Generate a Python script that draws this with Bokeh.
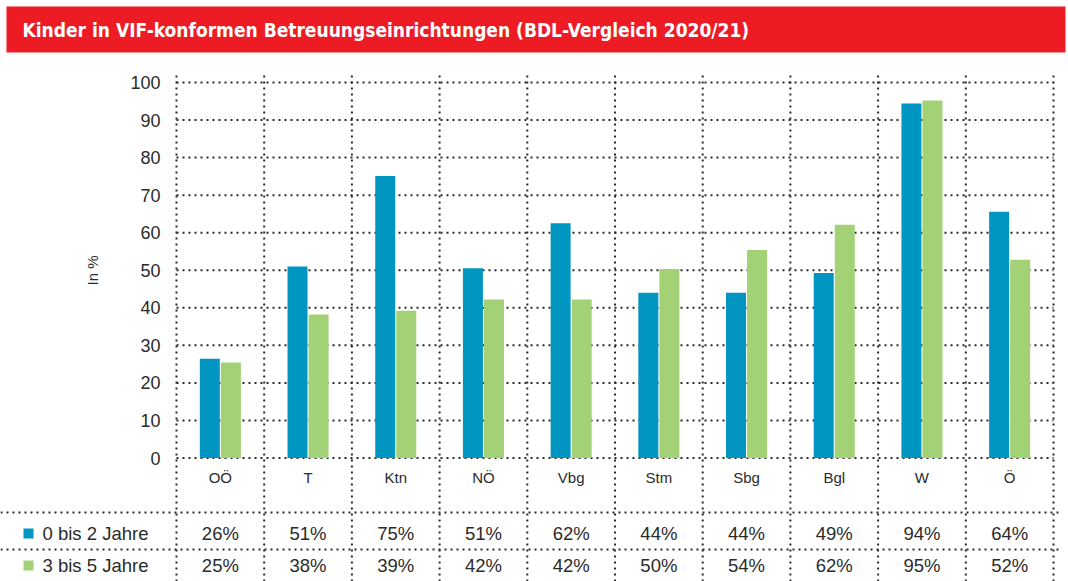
import numpy as np
from bokeh.plotting import figure
from bokeh.models import Range1d
from bokeh.core.properties import value
from bokeh.embed import file_html
from bokeh.resources import INLINE

# ---------------- data ----------------
title_text = "Kinder in VIF-konformen Betreuungseinrichtungen (BDL-Vergleich 2020/21)"
categories = ["OÖ", "T", "Ktn", "NÖ", "Vbg", "Stm", "Sbg", "Bgl", "W", "Ö"]
series_names = ["0 bis 2 Jahre", "3 bis 5 Jahre"]
# bar heights as drawn
bars_0_2 = [26.4, 51.0, 75.1, 50.5, 62.5, 44.0, 44.0, 49.3, 94.4, 65.6]
bars_3_5 = [25.4, 38.2, 39.2, 42.2, 42.2, 50.3, 55.4, 62.1, 95.2, 52.8]
# values printed in the table
table_0_2 = [26, 51, 75, 51, 62, 44, 44, 49, 94, 64]
table_3_5 = [25, 38, 39, 42, 42, 50, 54, 62, 95, 52]
y_ticks = [0, 10, 20, 30, 40, 50, 60, 70, 80, 90, 100]
y_label = "In %"

# ---------------- style ----------------
BLUE = "#0096c1"
GREEN = "#a2d176"
RED = "#ed1c24"
TXT = "#2b2b2b"
DOT = "#2a2a2a"
FONT = value("Liberation Sans")

W, H = 1068, 581
X0, CW = 176.0, 87.7      # picture x where first category starts, category width
Y0, PU = 457.5, 3.755     # picture y of value 0, pixels per unit


def dx(px):
    return (px - X0) / CW


def dy(py):
    return (Y0 - py) / PU


p = figure(width=W, height=H,
           x_range=Range1d(dx(0), dx(W)),
           y_range=Range1d(dy(H), dy(0)),
           min_border=0, toolbar_location=None, output_backend="svg",
           x_axis_location=None, y_axis_location=None)
p.outline_line_color = None
p.grid.visible = False
p.background_fill_color = "white"
p.border_fill_color = "white"

n = len(categories)
centers = np.arange(n) + 0.5

# title bar
p.quad(left=[dx(6)], right=[dx(1065)], top=[dy(6)], bottom=[dy(52)],
       fill_color=RED, line_color=None)
p.text(x=[dx(22)], y=[dy(29)], text=[title_text],
       text_font=value("DejaVu Sans Condensed"),
       text_font_size="19px", text_font_style="bold", text_color="white",
       text_baseline="middle", text_align="left")

# horizontal grid lines (dotted)
p.segment(x0=[0] * len(y_ticks), x1=[n] * len(y_ticks), y0=y_ticks, y1=y_ticks,
          line_color=DOT, line_width=2, line_dash="2 4")
# vertical separators
p.segment(x0=list(range(n + 1)), x1=list(range(n + 1)),
          y0=[dy(75)] * (n + 1), y1=[dy(590)] * (n + 1),
          line_color=DOT, line_width=2, line_dash="2 4")
# table row lines
p.segment(x0=[dx(0)] * 2, x1=[dx(1058)] * 2, y0=[dy(512), dy(549)], y1=[dy(512), dy(549)],
          line_color=DOT, line_width=2, line_dash="2 4")

# bars
p.vbar(x=centers - 0.12, top=bars_0_2, bottom=0, width=0.228, fill_color=BLUE, line_color=None)
p.vbar(x=centers + 0.12, top=bars_3_5, bottom=0, width=0.228, fill_color=GREEN, line_color=None)

# y tick labels
p.text(x=[dx(160)] * len(y_ticks), y=y_ticks, text=[str(t) for t in y_ticks],
       text_font=FONT, text_font_size="18px", text_color=TXT,
       text_align="right", text_baseline="middle")

# y axis label
p.text(x=[dx(92)], y=[dy(270)], text=[y_label], angle=np.pi / 2,
       text_font=FONT, text_font_size="15px", text_color=TXT,
       text_align="center", text_baseline="middle")

# category labels
p.text(x=centers, y=[dy(477)] * n, text=categories,
       text_font=FONT, text_font_size="15px", text_color=TXT,
       text_align="center", text_baseline="middle")

# table values
p.text(x=centers, y=[dy(533)] * n, text=[f"{v}%" for v in table_0_2],
       text_font=FONT, text_font_size="18.5px", text_color=TXT,
       text_align="center", text_baseline="middle")
p.text(x=centers, y=[dy(565)] * n, text=[f"{v}%" for v in table_3_5],
       text_font=FONT, text_font_size="18.5px", text_color=TXT,
       text_align="center", text_baseline="middle")

# legend in table
p.scatter(x=[dx(28)] * 2, y=[dy(533), dy(565)], marker="square", size=10,
          fill_color=[BLUE, GREEN], line_color=None)
p.text(x=[dx(42)] * 2, y=[dy(533), dy(565)], text=series_names,
       text_font=FONT, text_font_size="18.5px", text_color=TXT,
       text_align="left", text_baseline="middle")

open("out.html", "w").write(file_html(p, INLINE))
